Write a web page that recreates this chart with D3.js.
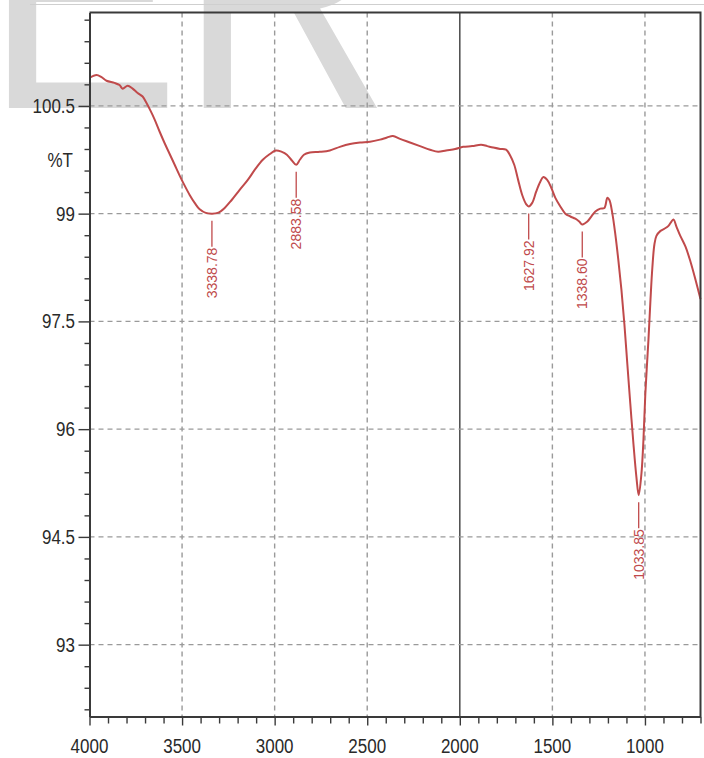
<!DOCTYPE html>
<html>
<head>
<meta charset="utf-8">
<script src="https://cdn.jsdelivr.net/npm/d3@7"></script>
<style>
  body { margin: 0; background: #fff; }
  svg { display: block; }
  text { font-family: "Liberation Sans", Arial, sans-serif; }
</style>
</head>
<body>
<svg id="chart" width="704" height="758"></svg>
<script>
// FTIR spectrum: wavenumber (cm-1) vs. transmittance (%T)
const wavenumber = [
  4000, 3962, 3935, 3908, 3865, 3838, 3821, 3794, 3767, 3740, 3713, 3692, 3670, 3648, 3621,
  3594, 3567, 3540, 3513, 3486, 3459, 3432, 3405, 3372, 3338.78, 3308, 3270, 3232, 3189, 3145,
  3102, 3064, 3026, 2994, 2961, 2934, 2907, 2883.58, 2864, 2842, 2810, 2756, 2702, 2648, 2593,
  2539, 2485, 2431, 2393, 2361, 2323, 2269, 2215, 2161, 2117, 2074, 2025, 1982, 1933, 1885,
  1852, 1820, 1782, 1750, 1728, 1706, 1685, 1663, 1641, 1627.92, 1609, 1587, 1566, 1549, 1528,
  1506, 1484, 1457, 1430, 1403, 1376, 1355, 1338.60, 1311, 1290, 1268, 1241, 1219, 1203, 1192,
  1176, 1160, 1144, 1127, 1111, 1095, 1079, 1062, 1046, 1033.85, 1019, 1008, 998, 981, 970,
  960, 949, 938, 916, 895, 873, 857, 846, 830, 809, 781, 754, 727, 700
];
const transmittance = [
  100.89, 100.93, 100.90, 100.85, 100.82, 100.79, 100.74, 100.78, 100.74, 100.68, 100.63, 100.54, 100.43, 100.31, 100.14,
  99.98, 99.83, 99.68, 99.53, 99.39, 99.26, 99.15, 99.06, 99.01, 99.00, 99.01, 99.08, 99.19, 99.33, 99.47,
  99.63, 99.75, 99.83, 99.88, 99.86, 99.82, 99.74, 99.68, 99.75, 99.82, 99.85, 99.86, 99.88, 99.93, 99.97,
  99.99, 100.00, 100.03, 100.06, 100.08, 100.04, 99.99, 99.94, 99.89, 99.86, 99.88, 99.90, 99.93, 99.94, 99.96,
  99.94, 99.92, 99.90, 99.89, 99.81, 99.68, 99.47, 99.26, 99.13, 99.10, 99.15, 99.31, 99.44, 99.51, 99.47,
  99.36, 99.22, 99.10, 99.00, 98.96, 98.93, 98.89, 98.85, 98.89, 98.96, 99.03, 99.07, 99.08, 99.22, 99.19,
  99.00, 98.71, 98.36, 97.94, 97.46, 96.90, 96.35, 95.79, 95.33, 95.08, 95.38, 95.86, 96.49, 97.25, 97.81,
  98.25, 98.57, 98.69, 98.76, 98.79, 98.83, 98.89, 98.92, 98.82, 98.69, 98.54, 98.33, 98.08, 97.81
];

// Annotated absorption bands
const peakWavenumbers = [3338.78, 2883.58, 1627.92, 1338.60, 1033.85];
const peakTransmittance = [99.00, 99.68, 99.10, 98.85, 95.08];
const peakLabels = ["3338.78", "2883.58", "1627.92", "1338.60", "1033.85"];

// Axis ticks
const xTickLabels = [4000, 3500, 3000, 2500, 2000, 1500, 1000];
const yTickLabels = [93, 94.5, 96, 97.5, 99, 100.5];
const yAxisTitle = "%T";
const watermarkText = "ER";

const svg = d3.select("#chart");
const lineColor = "#c04a4b";
const axisColor = "#3a3a3a";
const gridColor = "#9a9a9a";

const x = d3.scaleLinear().domain([4000, 700]).range([89.5, 700.5]);
const y = d3.scaleLinear().domain([92, 101.8]).range([716.5, 12.5]);

// Background watermark letters
svg.append("text")
  .attr("transform", "translate(-15,108) scale(1,1.15)")
  .attr("font-size", 292)
  .attr("fill", "#d9d9d9")
  .text(watermarkText);

// Thin rule along the top
svg.append("line")
  .attr("x1", 30).attr("x2", 704).attr("y1", 4.5).attr("y2", 4.5)
  .attr("stroke", "#cfcfcf").attr("stroke-width", 1);

// Grid
const grid = svg.append("g");
grid.selectAll("line.v")
  .data(xTickLabels.filter(d => d !== 4000))
  .join("line")
  .attr("x1", d => x(d)).attr("x2", d => x(d))
  .attr("y1", y.range()[1]).attr("y2", y.range()[0])
  .attr("stroke", d => d === 2000 ? "#4a4a4a" : gridColor)
  .attr("stroke-width", d => d === 2000 ? 1.5 : 1.4)
  .attr("stroke-dasharray", d => d === 2000 ? null : "5,4");
grid.selectAll("line.h")
  .data(yTickLabels)
  .join("line")
  .attr("x1", x.range()[0]).attr("x2", x.range()[1])
  .attr("y1", d => y(d)).attr("y2", d => y(d))
  .attr("stroke", gridColor).attr("stroke-width", 1.4)
  .attr("stroke-dasharray", "5,4");

// Spectrum curve
const points = wavenumber.map((w, i) => [w, transmittance[i]]);
svg.append("path")
  .datum(points)
  .attr("fill", "none")
  .attr("stroke", lineColor)
  .attr("stroke-width", 2)
  .attr("stroke-linejoin", "round")
  .attr("d", d3.line().x(d => x(d[0])).y(d => y(d[1])).curve(d3.curveCatmullRom.alpha(0.5)));

// Peak annotations: short leader below the band minimum, then rotated value
const peaks = svg.append("g");
peakWavenumbers.forEach((w, i) => {
  const px = x(w);
  const py = y(peakTransmittance[i]);
  peaks.append("line")
    .attr("x1", px).attr("x2", px)
    .attr("y1", py + 7).attr("y2", py + 33)
    .attr("stroke", lineColor).attr("stroke-width", 1.3);
  peaks.append("text")
    .attr("transform", `translate(${px},${py + 34}) rotate(-90)`)
    .attr("text-anchor", "end")
    .attr("dy", "0.36em")
    .attr("font-size", 14)
    .attr("fill", lineColor)
    .text(peakLabels[i]);
});

// Axes
const xMinor = d3.range(700, 4001, 100).filter(d => d % 500 !== 0);
const gx = svg.append("g").attr("transform", `translate(0,${y.range()[0]})`);
gx.call(d3.axisBottom(x).tickValues(xMinor).tickSize(7).tickFormat(""))
  .call(g => g.select(".domain").remove());
gx.append("g").call(d3.axisBottom(x).tickValues(xTickLabels).tickSize(9).tickFormat("").tickSizeOuter(0));
gx.selectAll("line").attr("stroke", axisColor).attr("stroke-width", 1.4);
gx.selectAll(".domain").attr("stroke", axisColor).attr("stroke-width", 2);

const yMinor = d3.range(0, 33).map(i => +(92.1 + 0.3 * i).toFixed(1)).filter(v => !yTickLabels.includes(v));
const gy = svg.append("g").attr("transform", `translate(${x.range()[0]},0)`);
gy.call(d3.axisLeft(y).tickValues(yMinor).tickSize(5).tickFormat(""))
  .call(g => g.select(".domain").remove());
gy.append("g").call(d3.axisLeft(y).tickValues(yTickLabels).tickSize(11).tickFormat("").tickSizeOuter(0));
gy.selectAll("line").attr("stroke", axisColor).attr("stroke-width", 1.4);
gy.selectAll(".domain").attr("stroke", axisColor).attr("stroke-width", 2);

// Frame: top and right borders
svg.append("path")
  .attr("d", `M${x.range()[0]},${y.range()[1]}H${x.range()[1]}V${y.range()[0]}`)
  .attr("fill", "none").attr("stroke", axisColor).attr("stroke-width", 2);

// Tick labels
svg.append("g").selectAll("text")
  .data(xTickLabels)
  .join("text")
  .attr("transform", d => `translate(${x(d)},746) scale(1,1.15)`)
  .attr("text-anchor", "middle").attr("dy", "0.36em")
  .attr("font-size", 17).attr("fill", "#2a2a2a")
  .text(d => d);

svg.append("g").selectAll("text")
  .data(yTickLabels)
  .join("text")
  .attr("transform", d => `translate(75,${y(d)}) scale(1,1.15)`)
  .attr("text-anchor", "end").attr("dy", "0.36em")
  .attr("font-size", 17).attr("fill", "#2a2a2a")
  .text(d => d);

svg.append("text")
  .attr("transform", "translate(73,160) scale(1,1.15)")
  .attr("text-anchor", "end").attr("dy", "0.36em")
  .attr("font-size", 17).attr("fill", "#2a2a2a")
  .text(yAxisTitle);
</script>
</body>
</html>
